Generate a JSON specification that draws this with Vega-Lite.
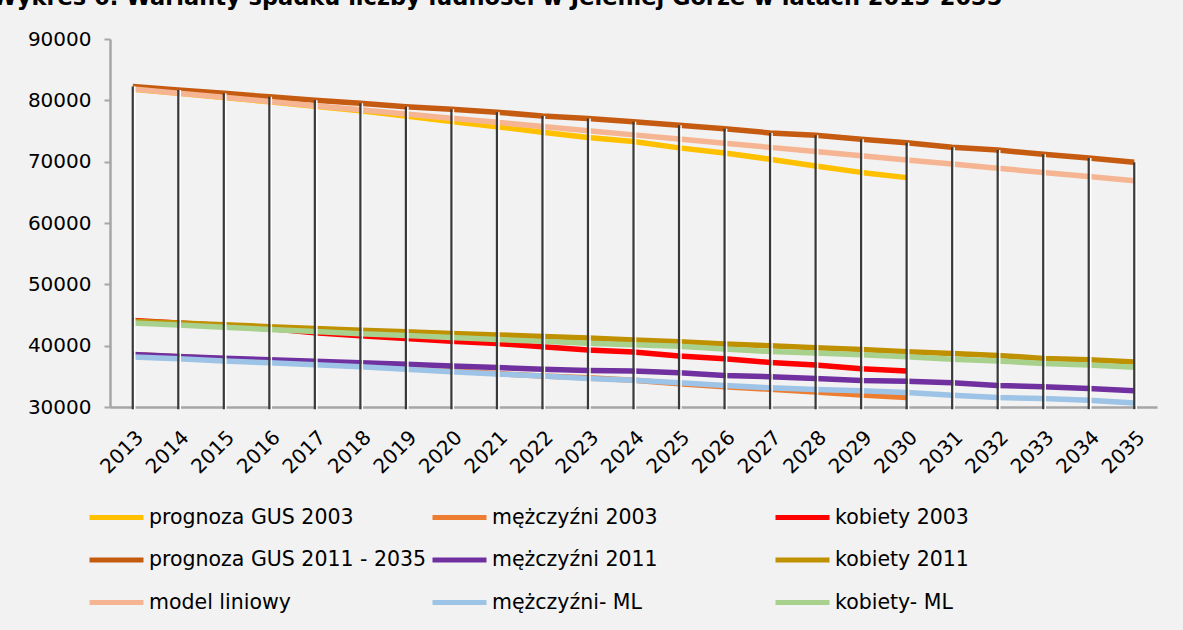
{
  "$schema": "https://vega.github.io/schema/vega-lite/v6.json",
  "width": 1047,
  "height": 368,
  "autosize": {"type": "none"},
  "padding": {"left": 110, "top": 39, "right": 26, "bottom": 223},
  "background": "#f2f2f2",
  "title": {
    "text": "Wykres 6. Warianty spadku liczby ludności w Jeleniej Górze w latach 2013-2035",
    "anchor": "start",
    "frame": "group",
    "font": "DejaVu Sans",
    "fontSize": 22.5,
    "fontWeight": "bold",
    "color": "#000000",
    "dx": -118,
    "dy": 4,
    "offset": 24
  },
  "datasets": {
    "series": [
      {"year": 2013, "series": "prognoza GUS 2003", "value": 81800},
      {"year": 2014, "series": "prognoza GUS 2003", "value": 81150},
      {"year": 2015, "series": "prognoza GUS 2003", "value": 80450},
      {"year": 2016, "series": "prognoza GUS 2003", "value": 79750},
      {"year": 2017, "series": "prognoza GUS 2003", "value": 79050},
      {"year": 2018, "series": "prognoza GUS 2003", "value": 78300},
      {"year": 2019, "series": "prognoza GUS 2003", "value": 77450},
      {"year": 2020, "series": "prognoza GUS 2003", "value": 76550},
      {"year": 2021, "series": "prognoza GUS 2003", "value": 75700},
      {"year": 2022, "series": "prognoza GUS 2003", "value": 74800},
      {"year": 2023, "series": "prognoza GUS 2003", "value": 73950},
      {"year": 2024, "series": "prognoza GUS 2003", "value": 73300},
      {"year": 2025, "series": "prognoza GUS 2003", "value": 72250},
      {"year": 2026, "series": "prognoza GUS 2003", "value": 71400},
      {"year": 2027, "series": "prognoza GUS 2003", "value": 70400},
      {"year": 2028, "series": "prognoza GUS 2003", "value": 69300},
      {"year": 2029, "series": "prognoza GUS 2003", "value": 68250},
      {"year": 2030, "series": "prognoza GUS 2003", "value": 67400},

      {"year": 2013, "series": "mężczyźni 2003", "value": 38550},
      {"year": 2014, "series": "mężczyźni 2003", "value": 38200},
      {"year": 2015, "series": "mężczyźni 2003", "value": 37850},
      {"year": 2016, "series": "mężczyźni 2003", "value": 37450},
      {"year": 2017, "series": "mężczyźni 2003", "value": 37100},
      {"year": 2018, "series": "mężczyźni 2003", "value": 36700},
      {"year": 2019, "series": "mężczyźni 2003", "value": 36300},
      {"year": 2020, "series": "mężczyźni 2003", "value": 35900},
      {"year": 2021, "series": "mężczyźni 2003", "value": 35450},
      {"year": 2022, "series": "mężczyźni 2003", "value": 35050},
      {"year": 2023, "series": "mężczyźni 2003", "value": 34750},
      {"year": 2024, "series": "mężczyźni 2003", "value": 34350},
      {"year": 2025, "series": "mężczyźni 2003", "value": 33800},
      {"year": 2026, "series": "mężczyźni 2003", "value": 33300},
      {"year": 2027, "series": "mężczyźni 2003", "value": 32900},
      {"year": 2028, "series": "mężczyźni 2003", "value": 32450},
      {"year": 2029, "series": "mężczyźni 2003", "value": 31950},
      {"year": 2030, "series": "mężczyźni 2003", "value": 31550},

      {"year": 2013, "series": "kobiety 2003", "value": 44100},
      {"year": 2014, "series": "kobiety 2003", "value": 43700},
      {"year": 2015, "series": "kobiety 2003", "value": 43300},
      {"year": 2016, "series": "kobiety 2003", "value": 42800},
      {"year": 2017, "series": "kobiety 2003", "value": 42100},
      {"year": 2018, "series": "kobiety 2003", "value": 41600},
      {"year": 2019, "series": "kobiety 2003", "value": 41150},
      {"year": 2020, "series": "kobiety 2003", "value": 40700},
      {"year": 2021, "series": "kobiety 2003", "value": 40350},
      {"year": 2022, "series": "kobiety 2003", "value": 39820},
      {"year": 2023, "series": "kobiety 2003", "value": 39300},
      {"year": 2024, "series": "kobiety 2003", "value": 38950},
      {"year": 2025, "series": "kobiety 2003", "value": 38300},
      {"year": 2026, "series": "kobiety 2003", "value": 37870},
      {"year": 2027, "series": "kobiety 2003", "value": 37270},
      {"year": 2028, "series": "kobiety 2003", "value": 36830},
      {"year": 2029, "series": "kobiety 2003", "value": 36230},
      {"year": 2030, "series": "kobiety 2003", "value": 35850},

      {"year": 2013, "series": "prognoza GUS 2011 - 2035", "value": 82250},
      {"year": 2014, "series": "prognoza GUS 2011 - 2035", "value": 81690},
      {"year": 2015, "series": "prognoza GUS 2011 - 2035", "value": 81140},
      {"year": 2016, "series": "prognoza GUS 2011 - 2035", "value": 80570},
      {"year": 2017, "series": "prognoza GUS 2011 - 2035", "value": 80000},
      {"year": 2018, "series": "prognoza GUS 2011 - 2035", "value": 79540},
      {"year": 2019, "series": "prognoza GUS 2011 - 2035", "value": 78960},
      {"year": 2020, "series": "prognoza GUS 2011 - 2035", "value": 78530},
      {"year": 2021, "series": "prognoza GUS 2011 - 2035", "value": 78060},
      {"year": 2022, "series": "prognoza GUS 2011 - 2035", "value": 77460},
      {"year": 2023, "series": "prognoza GUS 2011 - 2035", "value": 77050},
      {"year": 2024, "series": "prognoza GUS 2011 - 2035", "value": 76520},
      {"year": 2025, "series": "prognoza GUS 2011 - 2035", "value": 75930},
      {"year": 2026, "series": "prognoza GUS 2011 - 2035", "value": 75380},
      {"year": 2027, "series": "prognoza GUS 2011 - 2035", "value": 74690},
      {"year": 2028, "series": "prognoza GUS 2011 - 2035", "value": 74300},
      {"year": 2029, "series": "prognoza GUS 2011 - 2035", "value": 73650},
      {"year": 2030, "series": "prognoza GUS 2011 - 2035", "value": 73100},
      {"year": 2031, "series": "prognoza GUS 2011 - 2035", "value": 72350},
      {"year": 2032, "series": "prognoza GUS 2011 - 2035", "value": 71900},
      {"year": 2033, "series": "prognoza GUS 2011 - 2035", "value": 71200},
      {"year": 2034, "series": "prognoza GUS 2011 - 2035", "value": 70600},
      {"year": 2035, "series": "prognoza GUS 2011 - 2035", "value": 69900},

      {"year": 2013, "series": "mężczyźni 2011", "value": 38550},
      {"year": 2014, "series": "mężczyźni 2011", "value": 38250},
      {"year": 2015, "series": "mężczyźni 2011", "value": 37950},
      {"year": 2016, "series": "mężczyźni 2011", "value": 37700},
      {"year": 2017, "series": "mężczyźni 2011", "value": 37450},
      {"year": 2018, "series": "mężczyźni 2011", "value": 37200},
      {"year": 2019, "series": "mężczyźni 2011", "value": 36950},
      {"year": 2020, "series": "mężczyźni 2011", "value": 36700},
      {"year": 2021, "series": "mężczyźni 2011", "value": 36450},
      {"year": 2022, "series": "mężczyźni 2011", "value": 36150},
      {"year": 2023, "series": "mężczyźni 2011", "value": 35950},
      {"year": 2024, "series": "mężczyźni 2011", "value": 35850},
      {"year": 2025, "series": "mężczyźni 2011", "value": 35580},
      {"year": 2026, "series": "mężczyźni 2011", "value": 35150},
      {"year": 2027, "series": "mężczyźni 2011", "value": 34930},
      {"year": 2028, "series": "mężczyźni 2011", "value": 34660},
      {"year": 2029, "series": "mężczyźni 2011", "value": 34330},
      {"year": 2030, "series": "mężczyźni 2011", "value": 34200},
      {"year": 2031, "series": "mężczyźni 2011", "value": 33940},
      {"year": 2032, "series": "mężczyźni 2011", "value": 33520},
      {"year": 2033, "series": "mężczyźni 2011", "value": 33290},
      {"year": 2034, "series": "mężczyźni 2011", "value": 33030},
      {"year": 2035, "series": "mężczyźni 2011", "value": 32640},

      {"year": 2013, "series": "kobiety 2011", "value": 44000},
      {"year": 2014, "series": "kobiety 2011", "value": 43700},
      {"year": 2015, "series": "kobiety 2011", "value": 43400},
      {"year": 2016, "series": "kobiety 2011", "value": 43100},
      {"year": 2017, "series": "kobiety 2011", "value": 42800},
      {"year": 2018, "series": "kobiety 2011", "value": 42500},
      {"year": 2019, "series": "kobiety 2011", "value": 42250},
      {"year": 2020, "series": "kobiety 2011", "value": 42000},
      {"year": 2021, "series": "kobiety 2011", "value": 41750},
      {"year": 2022, "series": "kobiety 2011", "value": 41500},
      {"year": 2023, "series": "kobiety 2011", "value": 41250},
      {"year": 2024, "series": "kobiety 2011", "value": 40920},
      {"year": 2025, "series": "kobiety 2011", "value": 40640},
      {"year": 2026, "series": "kobiety 2011", "value": 40270},
      {"year": 2027, "series": "kobiety 2011", "value": 39990},
      {"year": 2028, "series": "kobiety 2011", "value": 39660},
      {"year": 2029, "series": "kobiety 2011", "value": 39390},
      {"year": 2030, "series": "kobiety 2011", "value": 39010},
      {"year": 2031, "series": "kobiety 2011", "value": 38740},
      {"year": 2032, "series": "kobiety 2011", "value": 38410},
      {"year": 2033, "series": "kobiety 2011", "value": 37920},
      {"year": 2034, "series": "kobiety 2011", "value": 37700},
      {"year": 2035, "series": "kobiety 2011", "value": 37320},

      {"year": 2013, "series": "model liniowy", "value": 81850},
      {"year": 2014, "series": "model liniowy", "value": 81170},
      {"year": 2015, "series": "model liniowy", "value": 80490},
      {"year": 2016, "series": "model liniowy", "value": 79810},
      {"year": 2017, "series": "model liniowy", "value": 79130},
      {"year": 2018, "series": "model liniowy", "value": 78450},
      {"year": 2019, "series": "model liniowy", "value": 77770},
      {"year": 2020, "series": "model liniowy", "value": 77090},
      {"year": 2021, "series": "model liniowy", "value": 76410},
      {"year": 2022, "series": "model liniowy", "value": 75730},
      {"year": 2023, "series": "model liniowy", "value": 75050},
      {"year": 2024, "series": "model liniowy", "value": 74370},
      {"year": 2025, "series": "model liniowy", "value": 73690},
      {"year": 2026, "series": "model liniowy", "value": 73010},
      {"year": 2027, "series": "model liniowy", "value": 72330},
      {"year": 2028, "series": "model liniowy", "value": 71650},
      {"year": 2029, "series": "model liniowy", "value": 70970},
      {"year": 2030, "series": "model liniowy", "value": 70290},
      {"year": 2031, "series": "model liniowy", "value": 69610},
      {"year": 2032, "series": "model liniowy", "value": 68930},
      {"year": 2033, "series": "model liniowy", "value": 68250},
      {"year": 2034, "series": "model liniowy", "value": 67570},
      {"year": 2035, "series": "model liniowy", "value": 66890},

      {"year": 2013, "series": "mężczyźni- ML", "value": 38150},
      {"year": 2014, "series": "mężczyźni- ML", "value": 37850},
      {"year": 2015, "series": "mężczyźni- ML", "value": 37500},
      {"year": 2016, "series": "mężczyźni- ML", "value": 37200},
      {"year": 2017, "series": "mężczyźni- ML", "value": 36900},
      {"year": 2018, "series": "mężczyźni- ML", "value": 36550},
      {"year": 2019, "series": "mężczyźni- ML", "value": 36150},
      {"year": 2020, "series": "mężczyźni- ML", "value": 35750},
      {"year": 2021, "series": "mężczyźni- ML", "value": 35400},
      {"year": 2022, "series": "mężczyźni- ML", "value": 35050},
      {"year": 2023, "series": "mężczyźni- ML", "value": 34650},
      {"year": 2024, "series": "mężczyźni- ML", "value": 34350},
      {"year": 2025, "series": "mężczyźni- ML", "value": 33940},
      {"year": 2026, "series": "mężczyźni- ML", "value": 33520},
      {"year": 2027, "series": "mężczyźni- ML", "value": 33130},
      {"year": 2028, "series": "mężczyźni- ML", "value": 32860},
      {"year": 2029, "series": "mężczyźni- ML", "value": 32640},
      {"year": 2030, "series": "mężczyźni- ML", "value": 32370},
      {"year": 2031, "series": "mężczyźni- ML", "value": 31930},
      {"year": 2032, "series": "mężczyźni- ML", "value": 31550},
      {"year": 2033, "series": "mężczyźni- ML", "value": 31390},
      {"year": 2034, "series": "mężczyźni- ML", "value": 31110},
      {"year": 2035, "series": "mężczyźni- ML", "value": 30670},

      {"year": 2013, "series": "kobiety- ML", "value": 43700},
      {"year": 2014, "series": "kobiety- ML", "value": 43350},
      {"year": 2015, "series": "kobiety- ML", "value": 43000},
      {"year": 2016, "series": "kobiety- ML", "value": 42650},
      {"year": 2017, "series": "kobiety- ML", "value": 42300},
      {"year": 2018, "series": "kobiety- ML", "value": 41950},
      {"year": 2019, "series": "kobiety- ML", "value": 41650},
      {"year": 2020, "series": "kobiety- ML", "value": 41350},
      {"year": 2021, "series": "kobiety- ML", "value": 41000},
      {"year": 2022, "series": "kobiety- ML", "value": 40700},
      {"year": 2023, "series": "kobiety- ML", "value": 40400},
      {"year": 2024, "series": "kobiety- ML", "value": 40150},
      {"year": 2025, "series": "kobiety- ML", "value": 39900},
      {"year": 2026, "series": "kobiety- ML", "value": 39450},
      {"year": 2027, "series": "kobiety- ML", "value": 39050},
      {"year": 2028, "series": "kobiety- ML", "value": 38800},
      {"year": 2029, "series": "kobiety- ML", "value": 38500},
      {"year": 2030, "series": "kobiety- ML", "value": 38200},
      {"year": 2031, "series": "kobiety- ML", "value": 37800},
      {"year": 2032, "series": "kobiety- ML", "value": 37500},
      {"year": 2033, "series": "kobiety- ML", "value": 37100},
      {"year": 2034, "series": "kobiety- ML", "value": 36850},
      {"year": 2035, "series": "kobiety- ML", "value": 36500}
    ]
  },
  "data": {"name": "series"},
  "encoding": {
    "x": {
      "field": "year",
      "type": "ordinal",
      "scale": {"type": "point", "padding": 0.5},
      "axis": {
        "title": null,
        "labelAngle": -45,
        "labelFont": "DejaVu Sans",
        "labelFontSize": 20,
        "labelColor": "#000000",
        "labelPadding": 20,
        "ticks": false,
        "domainColor": "#a6a6a6",
        "domainWidth": 2.5
      }
    }
  },
  "layer": [
    {
      "mark": {"type": "line", "strokeWidth": 5.5, "strokeCap": "butt", "strokeJoin": "round"},
      "encoding": {
        "y": {
          "field": "value",
          "type": "quantitative",
          "scale": {"domain": [30000, 90000], "nice": false, "zero": false},
          "axis": {
            "title": null,
            "values": [30000, 40000, 50000, 60000, 70000, 80000, 90000],
            "format": "d",
            "grid": false,
            "labelFont": "DejaVu Sans",
            "labelFontSize": 20,
            "labelColor": "#000000",
            "labelPadding": 13,
            "tickSize": 6,
            "tickColor": "#a6a6a6",
            "tickWidth": 2,
            "domainColor": "#a6a6a6",
            "domainWidth": 2.5
          }
        },
        "color": {
          "field": "series",
          "type": "nominal",
          "sort": null,
          "scale": {
            "domain": ["prognoza GUS 2003", "mężczyźni 2003", "kobiety 2003", "prognoza GUS 2011 - 2035", "mężczyźni 2011", "kobiety 2011", "model liniowy", "mężczyźni- ML", "kobiety- ML"],
            "range": ["#ffc000", "#ed7d31", "#ff0000", "#c55a11", "#7030a0", "#bf9000", "#f6b592", "#9dc3e6", "#a9d18e"]
          },
          "legend": {
            "title": null,
            "orient": "none",
            "direction": "horizontal",
            "legendX": -23,
            "legendY": 449,
            "columns": 3,
            "gridAlign": "all",
            "columnPadding": -5,
            "rowPadding": 2.5,
            "symbolType": "stroke",
            "symbolSize": 2916,
            "symbolStrokeWidth": 5,
            "labelFont": "DejaVu Sans",
            "labelFontSize": 20.5,
            "labelColor": "#000000",
            "labelOffset": 3,
            "labelLimit": 500
          }
        }
      }
    },
    {
      "transform": [{"filter": "datum.series === 'prognoza GUS 2011 - 2035'"}],
      "mark": {"type": "rule", "color": "#ffffff", "strokeWidth": 1.5, "xOffset": 2},
      "encoding": {
        "y": {"field": "value", "type": "quantitative"},
        "y2": {"datum": 29650}
      }
    },
    {
      "transform": [{"filter": "datum.series === 'prognoza GUS 2011 - 2035'"}],
      "mark": {"type": "rule", "color": "#3a3a3a", "strokeWidth": 2.2},
      "encoding": {
        "y": {"field": "value", "type": "quantitative"},
        "y2": {"datum": 29650}
      }
    }
  ],
  "config": {
    "view": {"stroke": null}
  }
}
